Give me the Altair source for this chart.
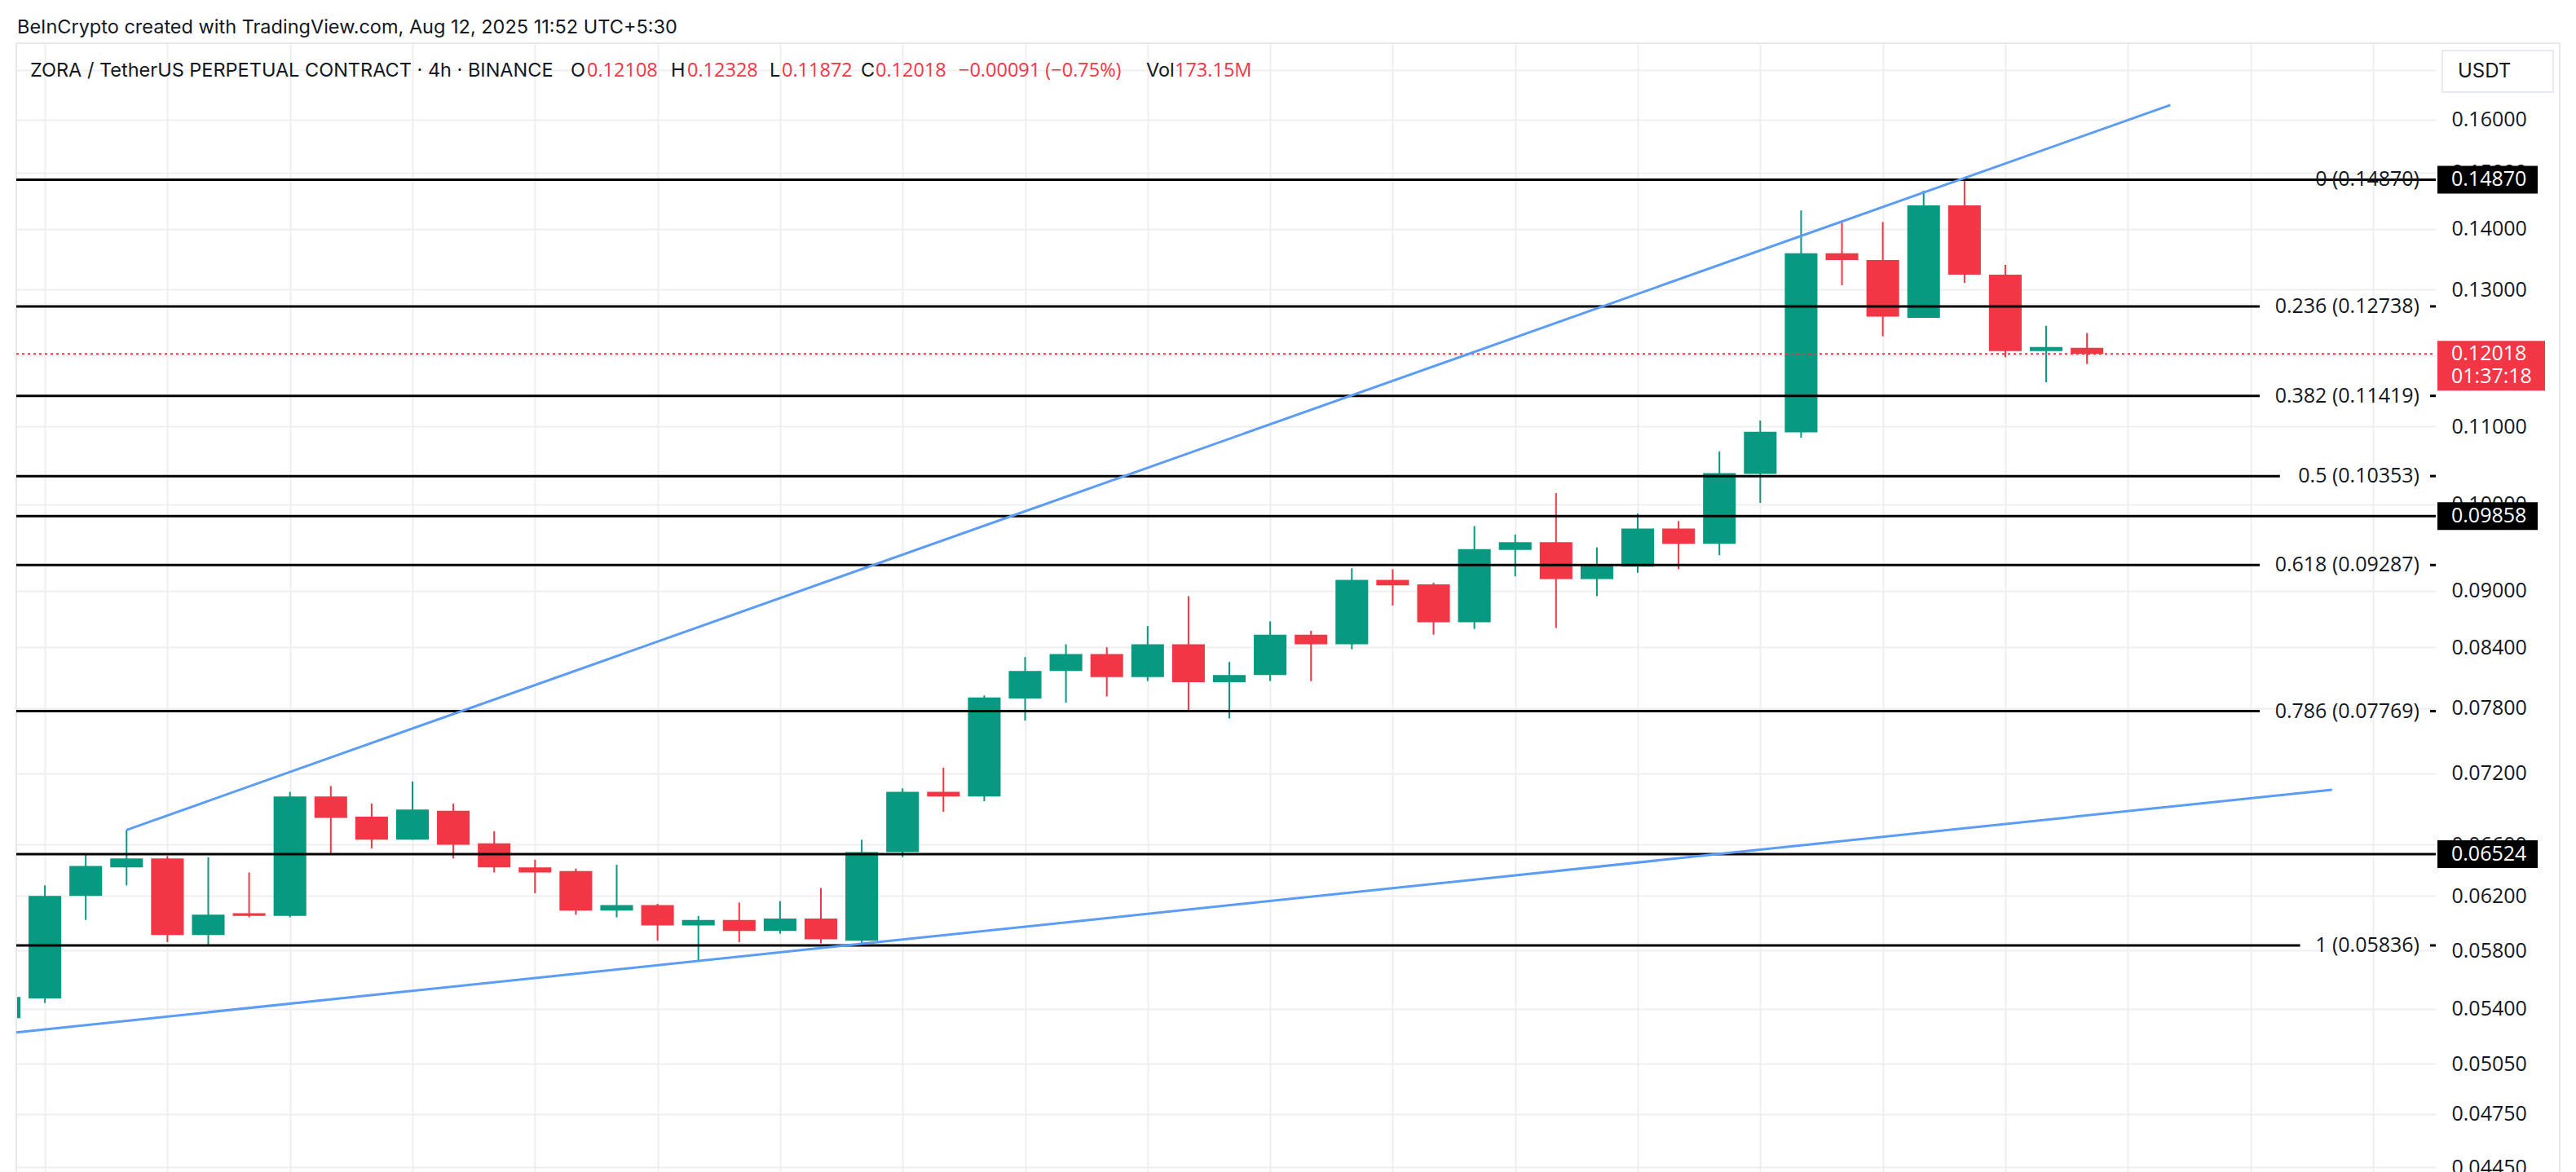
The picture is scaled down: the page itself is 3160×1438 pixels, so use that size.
import altair as alt
import pandas as pd
import numpy as np

# ---------------- data ----------------
candle_index = list(range(-1, 51))
opens = [0.0534, 0.0547, 0.0620, 0.0642, 0.0649, 0.0591, 0.0607, 0.0605, 0.0700, 0.0683,
         0.0664, 0.0688, 0.0661, 0.0642, 0.0639, 0.0609, 0.0613, 0.0598, 0.0602, 0.0594,
         0.0603, 0.0587, 0.0654, 0.0704, 0.0700, 0.0789, 0.0816, 0.0833, 0.0810, 0.0843,
         0.0805, 0.0812, 0.0853, 0.0843, 0.0912, 0.0907, 0.0866, 0.0946, 0.0955, 0.0913,
         0.0927, 0.0971, 0.0953, 0.1038, 0.1092, 0.1359, 0.1348, 0.1256, 0.1441, 0.1324,
         0.1206, 0.12108]
highs = [0.0550, 0.0628, 0.0652, 0.0672, 0.0651, 0.0650, 0.0638, 0.0704, 0.0709, 0.0694,
         0.0713, 0.0694, 0.0671, 0.0648, 0.0641, 0.0644, 0.0614, 0.0605, 0.0615, 0.0616,
         0.0626, 0.0664, 0.0707, 0.0725, 0.0792, 0.0830, 0.0843, 0.0840, 0.0862, 0.0894,
         0.0825, 0.0867, 0.0857, 0.0925, 0.0924, 0.0909, 0.0974, 0.0964, 0.1014, 0.0949,
         0.0989, 0.0980, 0.1067, 0.1108, 0.1432, 0.1414, 0.1412, 0.1467, 0.1487, 0.1340,
         0.1244, 0.12328]
lows = [0.0532, 0.0544, 0.0602, 0.0628, 0.0586, 0.0584, 0.0604, 0.0604, 0.0653, 0.0657,
        0.0664, 0.0649, 0.0638, 0.0622, 0.0606, 0.0604, 0.0587, 0.0573, 0.0586, 0.0592,
        0.0585, 0.0584, 0.0650, 0.0687, 0.0696, 0.0768, 0.0785, 0.0791, 0.0806, 0.0778,
        0.0770, 0.0806, 0.0806, 0.0838, 0.0884, 0.0853, 0.0859, 0.0916, 0.0860, 0.0894,
        0.0920, 0.0924, 0.0940, 0.1002, 0.1085, 0.1307, 0.1228, 0.1256, 0.1311, 0.1197,
        0.1161, 0.11872]
closes = [0.0548, 0.0620, 0.0643, 0.0649, 0.0591, 0.0606, 0.0605, 0.0700, 0.0682, 0.0664,
          0.0689, 0.0660, 0.0642, 0.0638, 0.0609, 0.0613, 0.0598, 0.0602, 0.0594, 0.0603,
          0.0588, 0.0654, 0.0704, 0.0700, 0.0790, 0.0816, 0.0833, 0.0810, 0.0843, 0.0805,
          0.0812, 0.0853, 0.0843, 0.0912, 0.0906, 0.0866, 0.0947, 0.0955, 0.0913, 0.0928,
          0.0971, 0.0953, 0.1039, 0.1093, 0.1359, 0.1348, 0.1258, 0.1441, 0.1324, 0.1206,
          0.1212, 0.12018]

fib_ratios = ["0", "0.236", "0.382", "0.5", "0.618", "0.786", "1"]
fib_prices = [0.14870, 0.12738, 0.11419, 0.10353, 0.09287, 0.07769, 0.05836]
extra_levels = [0.09858, 0.06524]
tag_prices = [0.14870, 0.09858, 0.06524]
last_price = 0.12018
last_timer = "01:37:18"

upper_trend_idx = [2.0, 52.04]
upper_trend_price = [0.0672, 0.1629]
lower_trend_idx = [-0.70, 56.0]
lower_trend_price = [0.05248, 0.07058]

y_ticks = [0.17, 0.16, 0.15, 0.14, 0.13, 0.12, 0.11, 0.10, 0.09, 0.084, 0.078, 0.072,
           0.066, 0.062, 0.058, 0.054, 0.0505, 0.0475, 0.0445]

header1 = "BeInCrypto created with TradingView.com, Aug 12, 2025 11:52 UTC+5:30"
# (text, colour, is_number, x position in px)
header2_parts = [
    ("ZORA / TetherUS PERPETUAL CONTRACT · 4h · BINANCE", "dark", False, 17),
    ("O", "dark", False, 680), ("0.12108", "red", True, 700),
    ("H", "dark", False, 803), ("0.12328", "red", True, 823),
    ("L", "dark", False, 924), ("0.11872", "red", True, 939),
    ("C", "dark", False, 1036), ("0.12018", "red", True, 1054),
    ("\u22120.00091 (\u22120.75%)", "red", True, 1156),
    ("Vol", "dark", False, 1386), ("173.15M", "red", True, 1421),
]

# ---------------- layout / style ----------------
GREEN = "#089981"
RED = "#F23645"
DARK = "#131722"
BLUE = "#5B9CF6"
GRID = "#EFEFEF"
FONT = "Inter"
NUMFONT = "Open Sans"
XMIN, XMAX = -0.70, 58.54
W, H = 2968, 1385
PX = W / (XMAX - XMIN)
YMIN, YMAX = 0.04425, 0.17567

xs = alt.Scale(domain=[XMIN, XMAX], nice=False, zero=False)
ys = alt.Scale(type="log", domain=[YMIN, YMAX], nice=False, zero=False)
cscale = alt.Scale(domain=["up", "down"], range=[GREEN, RED])

AX_X = alt.Axis(values=list(range(0, 58, 3)), grid=True, gridColor=GRID, gridWidth=2,
                labels=False, ticks=False, domain=False, title=None)
AX_Y = alt.Axis(orient="right", values=y_ticks, format=".5f", grid=True, gridColor=GRID,
                gridWidth=2, ticks=False, domain=False, title=None, labelPadding=19,
                labelFont=NUMFONT, labelFontSize=25, labelColor=DARK, labelOverlap=False,
                labelFlush=False, labelBound=False)


def X(field):
    return alt.X(field, scale=xs, axis=AX_X)


def Y(field):
    return alt.Y(field, scale=ys, axis=AX_Y)


df = pd.DataFrame({"i": candle_index, "open": opens, "high": highs, "low": lows, "close": closes})
df["dir"] = np.where(df["close"] >= df["open"], "up", "down")
df["x0"] = df["i"] - 0.4
df["x1"] = df["i"] + 0.4
df["top"] = df[["open", "close"]].max(axis=1)
df["bot"] = df[["open", "close"]].min(axis=1)

base = alt.Chart(df)
wicks = base.mark_rule(strokeWidth=2, clip=True).encode(
    x=X("i:Q"), y=Y("low:Q"), y2="high:Q",
    color=alt.Color("dir:N", scale=cscale, legend=None),
)
bodies = base.mark_rect(clip=True).encode(
    x=X("x0:Q"), x2="x1:Q", y=Y("bot:Q"), y2="top:Q",
    color=alt.Color("dir:N", scale=cscale, legend=None),
)

# fib levels
TEXT_RIGHT = 2948
fib_rows = []
for r, p in zip(fib_ratios, fib_prices):
    lab = f"{r} ({p:.5f})"
    through = (r == "0")
    end_px = W if through else TEXT_RIGHT - 12.4 * len(lab) - 10
    fib_rows.append({"label": lab, "price": p, "x0": XMIN, "xend": XMIN + end_px / PX,
                     "xtext": XMIN + TEXT_RIGHT / PX, "d0": XMIN + 2961 / PX, "d1": XMAX,
                     "through": through})
fib = pd.DataFrame(fib_rows)
fib_lines = alt.Chart(fib).mark_rule(color="black", strokeWidth=3).encode(
    x=X("x0:Q"), x2="xend:Q", y=Y("price:Q"))
fib_dash = alt.Chart(fib[~fib["through"]]).mark_rule(color="black", strokeWidth=3).encode(
    x=X("d0:Q"), x2="d1:Q", y=Y("price:Q"))
fib_text = alt.Chart(fib).mark_text(align="right", baseline="middle", font=NUMFONT,
                                    fontSize=25, color=DARK).encode(
    x=X("xtext:Q"), y=Y("price:Q"), text="label:N")

ext = pd.DataFrame({"price": extra_levels, "x0": XMIN, "x1": XMAX})
ext_lines = alt.Chart(ext).mark_rule(color="black", strokeWidth=3).encode(
    x=X("x0:Q"), x2="x1:Q", y=Y("price:Q"))

lp = pd.DataFrame({"price": [last_price], "x0": [XMIN], "x1": [XMAX],
                   "label": [f"{last_price:.5f}"], "timer": [last_timer]})
last_line = alt.Chart(lp).mark_rule(color=RED, strokeWidth=2, strokeDash=[3, 4]).encode(
    x=X("x0:Q"), x2="x1:Q", y=Y("price:Q"))

up = pd.DataFrame({"i": upper_trend_idx, "price": upper_trend_price})
lo = pd.DataFrame({"i": lower_trend_idx, "price": lower_trend_price})
up_line = alt.Chart(up).mark_line(color=BLUE, strokeWidth=3).encode(x=X("i:Q"), y=Y("price:Q"))
lo_line = alt.Chart(lo).mark_line(color=BLUE, strokeWidth=3).encode(x=X("i:Q"), y=Y("price:Q"))


# price tags on the axis
def box_path(w, h):
    r = h / w
    return f"M-1,-{r:.4f}L1,-{r:.4f}L1,{r:.4f}L-1,{r:.4f}Z"


tags = pd.DataFrame({"price": tag_prices, "label": [f"{p:.5f}" for p in tag_prices]})
tag_box = alt.Chart(tags).mark_point(shape=box_path(123, 34), size=123 ** 2, filled=True,
                                     fill="black", opacity=1, strokeWidth=0).encode(
    x=alt.value(3031.5), y=Y("price:Q"))
tag_text = alt.Chart(tags).mark_text(align="left", baseline="middle", font=NUMFONT,
                                     fontSize=25, color="white").encode(
    x=alt.value(2987), y=Y("price:Q"), text="label:N")

red_box = alt.Chart(lp).mark_point(shape=box_path(132, 61), size=132 ** 2, filled=True,
                                   fill=RED, opacity=1, strokeWidth=0, yOffset=14.5).encode(
    x=alt.value(3036), y=Y("price:Q"))
red_t1 = alt.Chart(lp).mark_text(align="left", baseline="middle", font=NUMFONT,
                                 fontSize=25, color="white").encode(
    x=alt.value(2987), y=Y("price:Q"), text="label:N")
red_t2 = alt.Chart(lp).mark_text(align="left", baseline="middle", font=NUMFONT,
                                 fontSize=25, color="white", dy=28).encode(
    x=alt.value(2987), y=Y("price:Q"), text="timer:N")

one = pd.DataFrame({"a": [0]})
usdt_box = alt.Chart(one).mark_point(shape=box_path(136, 51), size=136 ** 2, filled=True,
                                     fill="white", stroke="#E0E3EB", strokeWidth=1.5,
                                     opacity=1).encode(x=alt.value(3044), y=alt.value(34.5))
usdt_text = alt.Chart(one).mark_text(align="left", baseline="middle", font=FONT,
                                     fontSize=24, color=DARK).encode(
    x=alt.value(2995), y=alt.value(34.5), text=alt.value("USDT"))

# frame
frame_col = "#E8E8E8"
frame_left = alt.Chart(one).mark_rule(color=frame_col, strokeWidth=2).encode(
    x=alt.value(0), y=alt.value(0), y2=alt.value(H))
frame_top = alt.Chart(one).mark_rule(color=frame_col, strokeWidth=2).encode(
    x=alt.value(0), x2=alt.value(3120), y=alt.value(0))
frame_right = alt.Chart(one).mark_rule(color=frame_col, strokeWidth=2).encode(
    x=alt.value(3120), y=alt.value(0), y2=alt.value(H))

# headers
hdr_layers = [alt.Chart(one).mark_text(align="left", baseline="alphabetic", font=FONT,
                                       fontSize=23.5, color=DARK).encode(
    x=alt.value(1), y=alt.value(-12), text=alt.value(header1))]
for txt, col, isnum, xp in header2_parts:
    hdr_layers.append(alt.Chart(one).mark_text(
        align="left", baseline="alphabetic", font=(NUMFONT if isnum else FONT),
        fontSize=23.5, color=(RED if col == "red" else DARK)).encode(
        x=alt.value(xp), y=alt.value(41), text=alt.value(txt)))

chart = alt.layer(
    wicks, bodies, frame_left, frame_top, frame_right,
    fib_lines, fib_dash, ext_lines, last_line, up_line, lo_line, fib_text,
    tag_box, tag_text, red_box, red_t1, red_t2, usdt_box, usdt_text, *hdr_layers
).properties(
    width=W, height=H,
    autosize=alt.AutoSizeParams(type="none"),
    padding={"left": 20, "top": 53, "right": 172, "bottom": 0},
    background="white",
).configure_view(stroke=None)

chart.save("out.html", embed_options={"renderer": "svg", "actions": False})
